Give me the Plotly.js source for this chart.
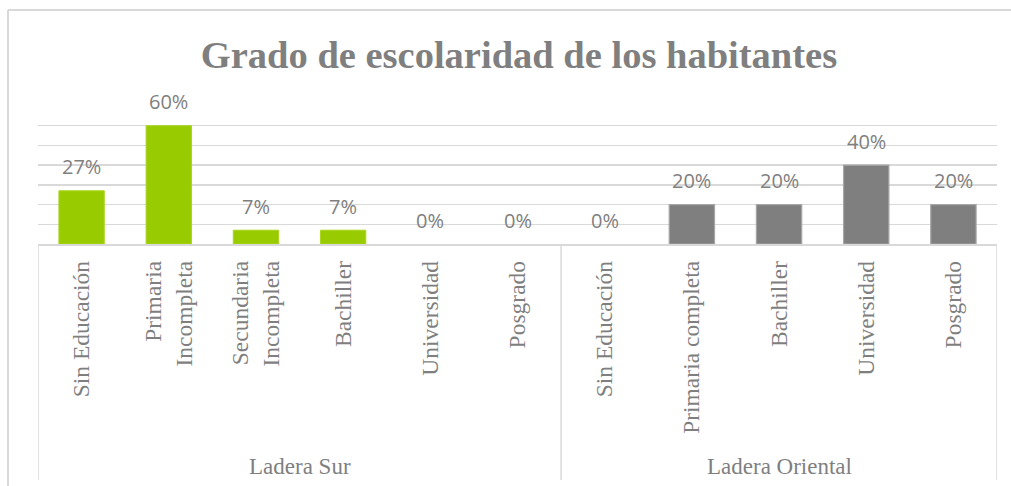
<!DOCTYPE html>
<html>
<head>
<meta charset="utf-8">
<script src="https://cdn.plot.ly/plotly-3.0.1.min.js"></script>
<style>
  html, body { margin: 0; padding: 0; background: #ffffff; }
  #chart { width: 1011px; height: 486px; }
</style>
</head>
<body>
<div id="chart"></div>
<script>
// ---- Data ----
const groupNames = ["Ladera Sur", "Ladera Oriental"];
const surCategories = ["Sin Educación", "Primaria<br>Incompleta", "Secundaria<br>Incompleta", "Bachiller", "Universidad", "Posgrado"];
const surValues = [0.27, 0.60, 0.07, 0.07, 0.00, 0.00];
const orientalCategories = ["Sin Educación", "Primaria completa", "Bachiller", "Universidad", "Posgrado"];
const orientalValues = [0.00, 0.20, 0.20, 0.40, 0.20];

// ---- Layout geometry (pixels) ----
const W = 1011, H = 486;
const plotL = 38, plotR = 997, plotT = 106, plotB = 244;
const plotW = plotR - plotL, plotH = plotB - plotT;
const px2x = p => (p - plotL) / plotW;
const px2y = p => (plotB - p) / plotH;

const nSur = surCategories.length;
const nOri = orientalCategories.length;
const surX = surCategories.map((_, i) => i);
const oriX = orientalCategories.map((_, i) => nSur + i);
const allCats = surCategories.concat(orientalCategories);
const allX = surX.concat(oriX);

const grey = "#7f7f7f";
const border = "#d9d9d9";

const traces = [
  {
    type: "bar", x: surX, y: surValues, name: groupNames[0],
    marker: { color: "#99cc00", line: { color: "#a9d41f", width: surValues.map(v => v > 0 ? 1 : 0) } },
    width: 0.52, hoverinfo: "none"
  },
  {
    type: "bar", x: oriX, y: orientalValues, name: groupNames[1],
    marker: { color: grey, line: { color: "#a6a6a6", width: orientalValues.map(v => v > 0 ? 1.2 : 0) } },
    width: 0.52, hoverinfo: "none"
  }
];

const labelFont = { family: "Open Sans, Liberation Sans, sans-serif", size: 20, color: grey };
const annotations = [];
surX.forEach((x, i) => annotations.push({
  x: x, y: surValues[i], xref: "x", yref: "y", text: Math.round(surValues[i] * 100) + "%",
  showarrow: false, yanchor: "middle", yshift: 24, font: labelFont
}));
oriX.forEach((x, i) => annotations.push({
  x: x, y: orientalValues[i], xref: "x", yref: "y", text: Math.round(orientalValues[i] * 100) + "%",
  showarrow: false, yanchor: "middle", yshift: 24, font: labelFont
}));

const groupFont = { family: "Liberation Serif, Times New Roman, serif", size: 23, color: grey };
annotations.push({
  x: (nSur - 1) / 2, y: px2y(466), xref: "x", yref: "paper", text: groupNames[0],
  showarrow: false, xanchor: "center", yanchor: "middle", font: groupFont
});
annotations.push({
  x: nSur + (nOri - 1) / 2, y: px2y(466), xref: "x", yref: "paper", text: groupNames[1],
  showarrow: false, xanchor: "center", yanchor: "middle", font: groupFont
});

const lineBottom = px2y(480);
const shapes = [
  // group dividers
  { type: "line", xref: "x", yref: "paper", x0: -0.5, x1: -0.5, y0: 0, y1: lineBottom, line: { color: border, width: 1.5 } },
  { type: "line", xref: "x", yref: "paper", x0: nSur - 0.5, x1: nSur - 0.5, y0: 0, y1: lineBottom, line: { color: border, width: 1.5 } },
  { type: "line", xref: "x", yref: "paper", x0: nSur + nOri - 0.5, x1: nSur + nOri - 0.5, y0: 0, y1: lineBottom, line: { color: border, width: 1.5 } },
  // outer chart border (left and top)
  { type: "line", xref: "paper", yref: "paper", x0: px2x(8), x1: px2x(8), y0: px2y(10), y1: px2y(490), line: { color: border, width: 2 } },
  { type: "line", xref: "paper", yref: "paper", x0: px2x(8), x1: px2x(1015), y0: px2y(10), y1: px2y(10), line: { color: border, width: 2 } }
];

const layout = {
  width: W, height: H,
  margin: { l: plotL, r: W - plotR, t: plotT, b: H - plotB, pad: 0 },
  paper_bgcolor: "#ffffff", plot_bgcolor: "#ffffff",
  showlegend: false,
  title: {
    text: "<b>Grado de escolaridad de los habitantes</b>",
    font: { family: "Liberation Serif, Times New Roman, serif", size: 38.5, color: grey },
    x: 519 / W, xref: "container", xanchor: "center",
    y: 1 - 55 / H, yref: "container", yanchor: "middle"
  },
  xaxis: {
    range: [-0.5, nSur + nOri - 0.5],
    tickmode: "array", tickvals: allX, ticktext: allCats,
    tickangle: -90,
    tickfont: { family: "Liberation Serif, Times New Roman, serif", size: 23.5, color: grey },
    showline: true, linecolor: border, linewidth: 1.5,
    showgrid: false, zeroline: false, ticks: "",
    ticklabelstandoff: 6,
    fixedrange: true
  },
  yaxis: {
    range: [0, 0.7], dtick: 0.1, tick0: 0,
    showgrid: true, gridcolor: border, gridwidth: 1.5,
    showticklabels: false, zeroline: false, showline: false, ticks: "",
    fixedrange: true
  },
  annotations: annotations,
  shapes: shapes
};

Plotly.newPlot("chart", traces, layout, { displayModeBar: false, staticPlot: true });
</script>
</body>
</html>
